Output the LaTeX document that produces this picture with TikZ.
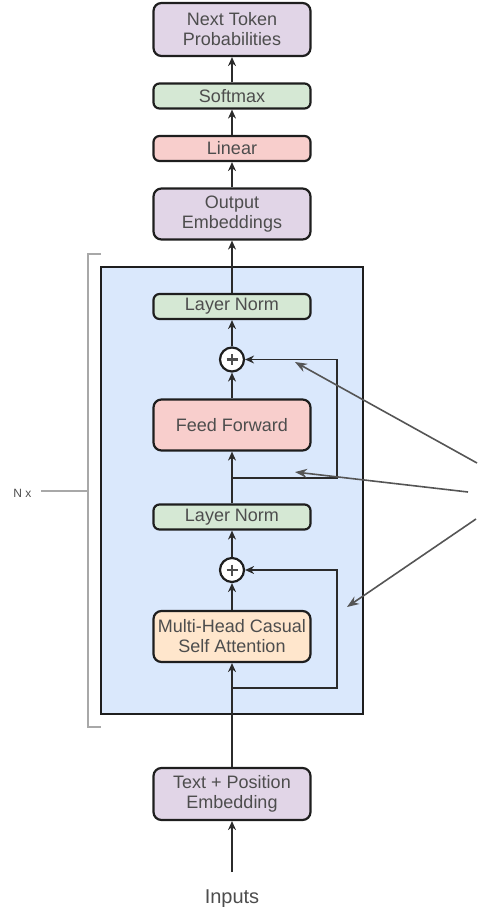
\documentclass[tikz,border=0pt]{standalone}
\usepackage{fontspec}
\setmainfont{Liberation Sans}
\usetikzlibrary{arrows.meta}

\definecolor{txtgray}{HTML}{4D4D4D}
\definecolor{edge}{HTML}{1E1E1E}
\definecolor{wire}{HTML}{2B2B2B}
\definecolor{purplefill}{HTML}{E1D5E7}
\definecolor{greenfill}{HTML}{D5E8D4}
\definecolor{redfill}{HTML}{F8CECC}
\definecolor{orangefill}{HTML}{FFE6CC}
\definecolor{bluefill}{HTML}{DAE8FC}
\definecolor{notegray}{HTML}{555555}
\definecolor{brackgray}{HTML}{A8A8A8}

\begin{document}
\begin{tikzpicture}[x=1pt,y=-1pt,
  block/.style={draw=edge, line width=2.2pt, rounded corners=6pt,
    minimum width=157pt, inner sep=0pt, align=center,
    text=txtgray, font=\fontsize{18pt}{20pt}\selectfont},
  thin block/.style={block, minimum height=25pt},
  tall block/.style={block, minimum height=51pt, rounded corners=8pt},
  adder/.style={circle, draw=edge, line width=2.2pt, fill=white,
    minimum size=24pt, inner sep=0pt,
    path picture={\draw[line width=2.4pt, txtgray]
      (path picture bounding box.center) +(-5.5,0) -- +(5.5,0)
      (path picture bounding box.center) +(0,-5.5) -- +(0,5.5);}},
  conn/.style={draw=wire, line width=1.3pt},
  flow/.style={conn, -{Stealth[length=9pt, width=8pt]}},
  note/.style={draw=notegray, line width=1.6pt,
    -{Stealth[length=12pt, width=9pt]}},
]
\useasboundingbox (0,0) rectangle (477,907);

% repeated decoder block
\node[draw=edge, line width=2.5pt, fill=bluefill, minimum width=262pt,
  minimum height=447pt, inner sep=0pt] (layer) at (232,490.5) {};

% N x bracket
\draw[brackgray, line width=2pt] (101,254) -- (88,254) -- (88,727) -- (101,727);
\coordinate (brk) at (88,491);
\coordinate (nxend) at (41,491);
\draw[brackgray, line width=2pt] (brk) -- (nxend);
\node[text=txtgray, font=\fontsize{12pt}{14pt}\selectfont, anchor=east]
  (nx) at (35,493) {N x};

% output head
\node[tall block, fill=purplefill, minimum height=53pt] (probs) at (232,29.5)
  {Next Token\\Probabilities};
\node[thin block, fill=greenfill] (softmax) at (232,96) {Softmax};
\node[thin block, fill=redfill] (linear) at (232,148.5) {Linear};
\node[tall block, fill=purplefill] (outemb) at (232,214) {Output\\Embeddings};

% inside the block
\node[thin block, fill=greenfill] (normB) at (232,306.5) {Layer Norm};
\node[adder] (addB) at (232,359.5) {};
\node[tall block, fill=redfill] (ffn) at (232,425) {Feed Forward};
\node[thin block, fill=greenfill] (normA) at (232,517) {Layer Norm};
\node[adder] (addA) at (232,570) {};
\node[tall block, fill=orangefill] (attn) at (232,636.5)
  {Multi-Head Casual\\Self Attention};

% input side
\node[tall block, fill=purplefill, minimum height=52pt] (embed) at (232,794)
  {Text + Position\\Embedding};
\node[text=txtgray, font=\fontsize{20pt}{22pt}\selectfont, anchor=base]
  (inputs) at (232,903) {Inputs};
\coordinate (inputtop) at (232,872);

% main data path
\draw[flow] (inputtop) -- (embed.south);
\draw[flow] (embed.north) -- (attn.south);
\draw[flow] (attn.north) -- (addA.south);
\draw[flow] (addA.north) -- (normA.south);
\draw[flow] (normA.north) -- (ffn.south);
\draw[flow] (ffn.north) -- (addB.south);
\draw[flow] (addB.north) -- (normB.south);
\draw[flow] (normB.north) -- (outemb.south);
\draw[flow] (outemb.north) -- (linear.south);
\draw[flow] (linear.north) -- (softmax.south);
\draw[flow] (softmax.north) -- (probs.south);

% residual connections
\coordinate (tapA) at (232,688);
\coordinate (turnA) at (337,688);
\draw[flow] (tapA) -- (turnA) |- (addA.east);
\coordinate (tapB) at (232,478);
\coordinate (turnB) at (337,478);
\draw[flow] (tapB) -- (turnB) |- (addB.east);

% pointer arrows coming in from the right
\coordinate (srcA) at (477,463);
\coordinate (dstA) at (295,362);
\coordinate (srcB) at (468,492);
\coordinate (dstB) at (295,472);
\coordinate (srcC) at (476,519);
\coordinate (dstC) at (347,607);
\draw[note] (srcA) -- (dstA);
\draw[note] (srcB) -- (dstB);
\draw[note] (srcC) -- (dstC);
\end{tikzpicture}
\end{document}
